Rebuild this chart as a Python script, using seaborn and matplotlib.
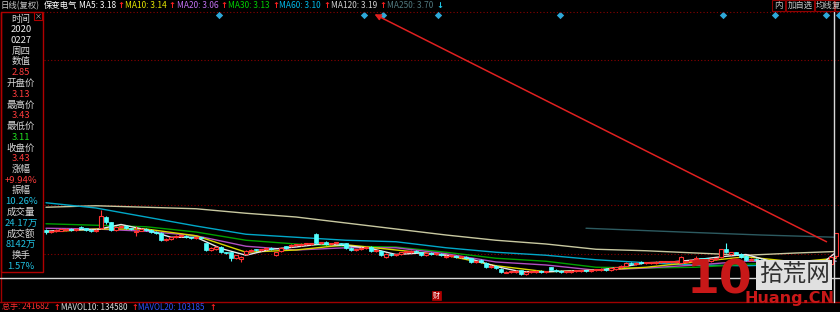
import numpy as np
import pandas as pd
import matplotlib
matplotlib.use("Agg")
import matplotlib.pyplot as plt
import seaborn as sns
from matplotlib.lines import Line2D
from matplotlib.patches import Rectangle, FancyArrowPatch

# ---------------- data ----------------
open_ = [3.48, 3.45, 3.46, 3.47, 3.48, 3.49, 3.48, 3.52, 3.50, 3.48, 3.46, 3.50, 3.65, 3.58, 3.48, 3.52, 3.53, 3.50, 3.45, 3.47,
         3.49, 3.48, 3.45, 3.44, 3.34, 3.36, 3.38, 3.40, 3.40, 3.38, 3.37, 3.38, 3.30, 3.21, 3.22, 3.25, 3.18, 3.18, 3.10, 3.09,
         3.16, 3.20, 3.22, 3.21, 3.22, 3.24, 3.14, 3.20, 3.26, 3.26, 3.28, 3.28, 3.29, 3.29, 3.42, 3.30, 3.32, 3.29, 3.30, 3.30,
         3.30, 3.24, 3.21, 3.22, 3.24, 3.25, 3.20, 3.20, 3.12, 3.16, 3.14, 3.16, 3.18, 3.18, 3.20, 3.18, 3.14, 3.17, 3.16, 3.16,
         3.12, 3.13, 3.13, 3.12, 3.12, 3.10, 3.05, 3.08, 3.04, 2.98, 3.00, 2.96, 2.91, 2.92, 2.92, 2.94, 2.89, 2.92, 2.92, 2.93,
         2.92, 2.98, 2.95, 2.93, 2.92, 2.92, 2.93, 2.93, 2.94, 2.93, 2.94, 2.94, 2.96, 2.94, 2.96, 2.98, 3.00, 3.04, 3.02, 3.05,
         3.04, 3.04, 3.04, 3.05, 3.05, 3.05, 3.05, 3.04, 3.05, 3.06, 3.09, 3.10, 3.10, 3.06, 3.09, 3.12, 3.22, 3.16, 3.18, 3.16,
         3.13, 3.08, 3.09, 3.08, 3.06, 3.05, 3.06, 3.05, 3.04, 3.04, 3.02, 3.02, 3.04, 3.04, 3.02, 3.01, 3.01, 3.03, 3.13]
close = [3.45, 3.46, 3.48, 3.49, 3.49, 3.48, 3.49, 3.50, 3.48, 3.46, 3.48, 3.66, 3.58, 3.48, 3.52, 3.53, 3.50, 3.49, 3.47, 3.49,
         3.48, 3.45, 3.44, 3.34, 3.36, 3.38, 3.40, 3.40, 3.38, 3.37, 3.38, 3.37, 3.21, 3.24, 3.25, 3.18, 3.17, 3.10, 3.14, 3.12,
         3.20, 3.21, 3.21, 3.22, 3.24, 3.22, 3.18, 3.24, 3.24, 3.28, 3.28, 3.29, 3.29, 3.30, 3.30, 3.30, 3.29, 3.30, 3.30, 3.29,
         3.24, 3.21, 3.22, 3.24, 3.25, 3.20, 3.20, 3.14, 3.16, 3.14, 3.14, 3.18, 3.18, 3.20, 3.18, 3.14, 3.17, 3.16, 3.16, 3.14,
         3.13, 3.13, 3.12, 3.12, 3.10, 3.05, 3.06, 3.05, 2.98, 3.00, 2.97, 2.92, 2.92, 2.92, 2.93, 2.89, 2.92, 2.92, 2.93, 2.92,
         2.92, 2.95, 2.93, 2.92, 2.92, 2.93, 2.93, 2.94, 2.93, 2.94, 2.94, 2.96, 2.94, 2.97, 2.98, 3.00, 3.04, 3.02, 3.04, 3.04,
         3.04, 3.04, 3.05, 3.05, 3.05, 3.05, 3.06, 3.12, 3.06, 3.08, 3.10, 3.09, 3.06, 3.09, 3.10, 3.22, 3.18, 3.18, 3.16, 3.12,
         3.08, 3.09, 3.08, 3.06, 3.05, 3.06, 3.05, 3.04, 3.04, 3.02, 3.02, 3.04, 3.04, 3.02, 3.01, 3.01, 3.03, 3.12, 3.43]
high = [3.49, 3.47, 3.49, 3.51, 3.51, 3.50, 3.50, 3.53, 3.51, 3.49, 3.49, 3.75, 3.66, 3.59, 3.53, 3.54, 3.54, 3.51, 3.53, 3.50,
        3.50, 3.49, 3.46, 3.45, 3.37, 3.39, 3.41, 3.41, 3.41, 3.39, 3.39, 3.39, 3.31, 3.25, 3.26, 3.26, 3.19, 3.19, 3.15, 3.13,
        3.21, 3.22, 3.23, 3.23, 3.25, 3.25, 3.19, 3.25, 3.27, 3.29, 3.29, 3.30, 3.30, 3.31, 3.44, 3.31, 3.33, 3.31, 3.31, 3.31,
        3.31, 3.25, 3.23, 3.25, 3.26, 3.26, 3.21, 3.21, 3.17, 3.17, 3.15, 3.19, 3.19, 3.21, 3.21, 3.19, 3.18, 3.18, 3.17, 3.17,
        3.14, 3.14, 3.14, 3.13, 3.13, 3.11, 3.07, 3.09, 3.05, 3.01, 3.01, 2.97, 2.93, 2.93, 2.94, 2.95, 2.93, 2.93, 2.94, 2.94,
        2.93, 2.99, 2.96, 2.94, 2.93, 2.94, 2.94, 2.95, 2.95, 2.95, 2.95, 2.97, 2.97, 2.98, 2.99, 3.01, 3.05, 3.05, 3.05, 3.06,
        3.05, 3.05, 3.06, 3.06, 3.06, 3.06, 3.07, 3.13, 3.07, 3.09, 3.13, 3.11, 3.11, 3.10, 3.11, 3.23, 3.31, 3.19, 3.19, 3.17,
        3.14, 3.10, 3.10, 3.09, 3.07, 3.07, 3.07, 3.06, 3.05, 3.05, 3.03, 3.05, 3.05, 3.05, 3.03, 3.02, 3.04, 3.13, 3.43]
low = [3.43, 3.44, 3.45, 3.46, 3.47, 3.46, 3.47, 3.49, 3.47, 3.45, 3.45, 3.49, 3.56, 3.47, 3.47, 3.51, 3.49, 3.48, 3.40, 3.46,
       3.47, 3.44, 3.43, 3.33, 3.33, 3.35, 3.37, 3.39, 3.37, 3.36, 3.36, 3.36, 3.20, 3.20, 3.21, 3.17, 3.16, 3.06, 3.09, 3.05,
       3.15, 3.19, 3.20, 3.20, 3.21, 3.21, 3.13, 3.19, 3.23, 3.25, 3.27, 3.27, 3.28, 3.28, 3.29, 3.29, 3.28, 3.28, 3.29, 3.28,
       3.23, 3.20, 3.20, 3.21, 3.23, 3.19, 3.19, 3.13, 3.11, 3.13, 3.13, 3.15, 3.17, 3.17, 3.17, 3.13, 3.13, 3.15, 3.15, 3.13,
       3.11, 3.12, 3.11, 3.11, 3.09, 3.04, 3.04, 3.04, 2.97, 2.97, 2.96, 2.90, 2.90, 2.91, 2.91, 2.88, 2.88, 2.91, 2.91, 2.91,
       2.91, 2.94, 2.92, 2.91, 2.91, 2.91, 2.92, 2.92, 2.92, 2.92, 2.93, 2.93, 2.93, 2.93, 2.95, 2.97, 2.99, 3.01, 3.01, 3.03,
       3.03, 3.03, 3.03, 3.04, 3.04, 3.04, 3.04, 3.03, 3.04, 3.05, 3.08, 3.08, 3.05, 3.05, 3.08, 3.11, 3.17, 3.15, 3.15, 3.11,
       3.07, 3.07, 3.07, 3.05, 3.04, 3.04, 3.04, 3.03, 3.03, 3.01, 3.01, 3.01, 3.03, 3.01, 3.00, 3.00, 2.99, 2.99, 3.11]

ma_idx = [0, 10, 20, 30, 40, 50, 60, 70, 80, 90, 100, 110, 120, 130, 140, 150, 158]
ma10 = [3.45, 3.49, 3.49, 3.40, 3.18, 3.21, 3.28, 3.21, 3.14, 3.00, 2.92, 2.94, 2.98, 3.05, 3.12, 3.05, 3.10]
ma20 = [3.50, 3.49, 3.46, 3.40, 3.26, 3.21, 3.24, 3.24, 3.16, 3.05, 3.01, 2.94, 2.97, 3.01, 3.06, 3.05, 3.06]
ma30 = [3.56, 3.54, 3.52, 3.45, 3.34, 3.29, 3.26, 3.25, 3.18, 3.10, 3.06, 2.98, 2.97, 2.98, 3.02, 3.04, 3.06]
ma60 = [3.84, 3.77, 3.65, 3.53, 3.42, 3.38, 3.34, 3.32, 3.24, 3.18, 3.14, 3.08, 3.04, 3.01, 3.00, 3.02, 3.06]
ma120 = [3.78, 3.80, 3.78, 3.76, 3.70, 3.65, 3.57, 3.49, 3.41, 3.34, 3.29, 3.22, 3.20, 3.17, 3.14, 3.17, 3.19]
ma5_idx = [0, 5, 10, 15, 20, 25, 30, 35, 40, 45, 50, 55, 60, 65, 70, 75, 80, 85, 90, 95, 100, 105, 110, 115, 120,
           125, 130, 135, 140, 145, 150, 155, 158]
ma5 = [3.46, 3.48, 3.48, 3.55, 3.48, 3.38, 3.38, 3.23, 3.14, 3.22, 3.25, 3.29, 3.27, 3.23, 3.15, 3.17, 3.14, 3.09,
       2.99, 2.92, 2.92, 2.93, 2.94, 2.98, 3.04, 3.05, 3.08, 3.12, 3.15, 3.06, 3.03, 3.02, 3.18]
ma250_idx = [108, 127, 143, 158]
ma250 = [3.50, 3.45, 3.41, 3.38]

event_idx = [34.6, 63.6, 67.4, 78.4, 102.8, 135.4, 145.8, 156.0, 158.6]
grid_levels = [5.74, 3.81, 3.16]

header = [("日线(复权)", "#c8c8c8", None, None),
          ("保变电气", "#ffffff", None, None),
          ("MA5: 3.18", "#ffffff", "↑", "#ff2020"),
          ("MA10: 3.14", "#e6e600", "↑", "#ff2020"),
          ("MA20: 3.06", "#c070f0", "↑", "#ff2020"),
          ("MA30: 3.13", "#00d000", "↑", "#ff2020"),
          ("MA60: 3.10", "#00b8e8", "↑", "#ff2020"),
          ("MA120: 3.19", "#d0d0d0", "↑", "#ff2020"),
          ("MA250: 3.70", "#50787e", "↓", "#20c8e8")]
header_x = [1, 44, 79, 125, 177, 228, 279, 331, 387]
header_arrow_x = [None, None, 117, 168, 220, 272, 323, 379, 436]

LBL, WHT, RED, GRN, CYN = "#d8d8d8", "#ececec", "#ff3c3c", "#20e020", "#20c0e0"
panel = [("时间", LBL), ("2020", WHT), ("0227", WHT), ("周四", LBL), ("数值", LBL), ("2.85", RED),
         ("开盘价", LBL), ("3.13", RED), ("最高价", LBL), ("3.43", RED), ("最低价", LBL), ("3.11", GRN),
         ("收盘价", LBL), ("3.43", RED), ("涨幅", LBL), ("+9.94%", RED), ("振幅", LBL), ("10.26%", CYN),
         ("成交量", LBL), ("24.17万", CYN), ("成交额", LBL), ("8142万", CYN), ("换手", LBL), ("1.57%", CYN)]

vol_texts = [("总手: 241682", "#ff3030", 2, 53), ("MAVOL10: 134580", "#e0e0e0", 61, 131),
             ("MAVOL20: 103185", "#3050ff", 138, 209)]

# ---------------- figure ----------------
sns.set_theme(style="dark")
plt.rcParams['font.family'] = ['Noto Sans CJK SC', 'DejaVu Sans']
plt.rcParams['axes.unicode_minus'] = False

W, H = 840, 312
fig = plt.figure(figsize=(W / 100, H / 100), dpi=100, facecolor="black")


def fx(x):
    return x / W


def fy(y):
    return 1 - y / H


def fline(x0, y0, x1, y1, color, lw=1.0, ls="-", z=5):
    fig.add_artist(Line2D([fx(x0), fx(x1)], [fy(y0), fy(y1)], transform=fig.transFigure,
                          color=color, lw=lw, ls=ls, zorder=z))


# main price axes: pixel 44..840 horizontally, 12..278 vertically
ax = fig.add_axes([fx(44), fy(278), fx(840) - fx(44), fy(12) - fy(278)])
ax.set_facecolor("black")
N = len(close)
ax.set_xlim(-0.4, 158.8)
ax.set_ylim(3.13 - 22 / 75, 3.13 + 244 / 75)
for s in ax.spines.values():
    s.set_visible(False)
ax.set_xticks([])
ax.set_yticks([])
ax.grid(False)

for lv in grid_levels:
    ax.axhline(lv, color="#8a0000", lw=0.8, ls=(0, (1, 2)), zorder=1)

# moving averages
ma_specs = [(ma250_idx, ma250, "#2c5a60"), (ma_idx, ma120, "#c8c8a0"),
            (ma_idx, ma60, "#00a8c8"), (ma_idx, ma30, "#00a000"), (ma_idx, ma20, "#b050c0"),
            (ma_idx, ma10, "#d8d800"), (ma5_idx, ma5, "#e8e8e8")]
for xs, ys, col in ma_specs:
    df = pd.DataFrame({"i": xs, "v": ys})
    sns.lineplot(data=df, x="i", y="v", ax=ax, color=col, linewidth=1.0, estimator=None, sort=False, zorder=3)
ax.set_xlabel("")
ax.set_ylabel("")

# candles
o = np.array(open_)
c = np.array(close)
h = np.array(high)
l = np.array(low)
xi = np.arange(N)
up = c >= o
UPC, DNC = "#ff3232", "#54ffff"
ax.vlines(xi[up], l[up], h[up], color=UPC, lw=0.8, zorder=4)
ax.vlines(xi[~up], l[~up], h[~up], color=DNC, lw=0.8, zorder=4)
bottom = np.minimum(o, c)
height = np.maximum(np.abs(c - o), 0.012)
ax.bar(xi[up], height[up], bottom=bottom[up], width=0.62, facecolor="black", edgecolor=UPC, linewidth=0.8, zorder=5)
ax.bar(xi[~up], height[~up], bottom=bottom[~up], width=0.62, facecolor=DNC, edgecolor=DNC, linewidth=0.5, zorder=5)

# event diamonds
ax.scatter(event_idx, [3.13 + 241 / 75] * len(event_idx), marker="D", s=14, color="#2ea8d8", zorder=6,
           clip_on=False, linewidths=0)

# ---------------- frame lines ----------------
fline(43, 12, 840, 12, "#8a0000", lw=0.8, ls=(0, (1, 2)))
fline(0, 277.5, 840, 277.5, "#d8d8d8", lw=1.0, z=7)
fline(834, 12, 834, 302, "#d8d8d8", lw=1.0, z=7)
fline(0, 302, 840, 302, "#a00000", lw=1.0)
fline(0.6, 12, 0.6, 302, "#a00000", lw=1.0)
fig.add_artist(Rectangle((fx(0.5), fy(272)), fx(43) - fx(0.5), fy(12) - fy(272), transform=fig.transFigure,
                         fill=False, edgecolor="#b00000", lw=1.0, zorder=6))
fig.add_artist(Rectangle((fx(34), fy(20)), fx(8), fy(12) - fy(20), transform=fig.transFigure,
                         fill=False, edgecolor="#b00000", lw=0.8, zorder=6))
fig.text(fx(38), fy(16), "×", color="#c0c0c0", fontsize=5, ha="center", va="center")

# header
for (txt, col, arr, acol), x0, ax0 in zip(header, header_x, header_arrow_x):
    fig.text(fx(x0), fy(5.5), txt, color=col, fontsize=6, ha="left", va="center")
    if arr:
        fig.text(fx(ax0), fy(5.5), arr, color=acol, fontsize=6, ha="left", va="center",
                 family=['DejaVu Sans'], fontweight="bold")

# right buttons
btns = [("内", 772, 785), ("加自选", 786, 814), ("均线", 815, 834), ("复", 835, 848)]
for t, x0, x1 in btns:
    fig.add_artist(Rectangle((fx(x0), fy(11)), fx(x1 - x0), fy(0) - fy(11), transform=fig.transFigure,
                             fill=False, edgecolor="#900000", lw=0.8))
    fig.text(fx(min((x0 + x1) / 2, 836)), fy(5.5), t, color="#c8c8c8", fontsize=6, ha="center", va="center")

# info panel
for k, (t, col) in enumerate(panel):
    fig.text(fx(21), fy(19 + k * 10.74), t, color=col, fontsize=6.8, ha="center", va="center")

# volume line texts
for t, col, x0, ax0 in vol_texts:
    fig.text(fx(x0), fy(307), t, color=col, fontsize=5.8, ha="left", va="center")
    fig.text(fx(ax0), fy(307), "↑", color="#ff2020", fontsize=5.8, ha="left", va="center",
             family=['DejaVu Sans'], fontweight="bold")

# 财 marker
fig.add_artist(Rectangle((fx(432), fy(300)), fx(9), fy(291) - fy(300), transform=fig.transFigure,
                         facecolor="#b00000", edgecolor="#b00000", lw=0.5))
fig.text(fx(436.5), fy(295.5), "财", color="#ffffff", fontsize=5, ha="center", va="center")

# red arrow annotation
fig.add_artist(FancyArrowPatch((fx(829), fy(243)), (fx(372), fy(13)),
                               transform=fig.transFigure, arrowstyle="-|>",
                               mutation_scale=9, color="#e02020", lw=1.1, zorder=9))

# watermark
fig.text(fx(720), fy(281), "10", color="#c81818", fontsize=34, fontweight="bold", ha="center", va="center",
         family=['DejaVu Sans'], zorder=10)
fig.add_artist(Rectangle((fx(756), fy(290)), fx(76), fy(260) - fy(290), transform=fig.transFigure,
                         facecolor="#e0e0e0", edgecolor="none", zorder=9))
fig.text(fx(794), fy(275), "拾荒网", color="#303030", fontsize=17, ha="center", va="center", zorder=10)
fig.text(fx(789), fy(298), "Huang.CN", color="#c81818", fontsize=11.5, fontweight="bold", ha="center",
         va="center", family=['DejaVu Sans'], zorder=10)

fig.savefig("out.png", dpi=100, facecolor="black")
